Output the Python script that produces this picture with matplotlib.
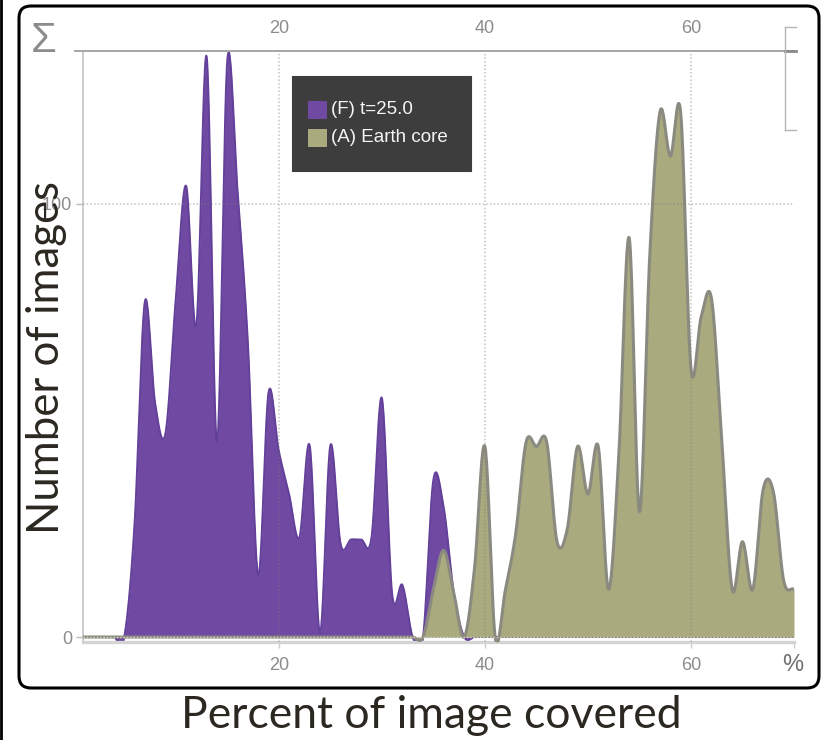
import numpy as np
import matplotlib
matplotlib.use("Agg")
import matplotlib.pyplot as plt
from matplotlib.patches import FancyBboxPatch, Rectangle
from matplotlib.lines import Line2D

# ---- data: number of images per percent of image covered ----
percent = list(range(1, 71))

series_names = ["(F) t=25.0", "(A) Earth core"]

flux_t25 = [0, 0, 0, 0, 0, 26, 77.4, 54, 47, 78,
            104.2, 72, 134.0, 45, 133.1, 103, 68, 14.3, 56.4, 43,
            33, 23, 44.2, 0.9, 44.2, 21.5, 22.5, 22.5, 23, 55.2,
            10, 12, 0, 0, 36.3, 30, 10, 0, 0, 0,
            0, 0, 0, 0, 0, 0, 0, 0, 0, 0,
            0, 0, 0, 0, 0, 0, 0, 0, 0, 0,
            0, 0, 0, 0, 0, 0, 0, 0, 0, 0]

earth_core = [0, 0, 0, 0, 0, 0, 0, 0, 0, 0,
              0, 0, 0, 0, 0, 0, 0, 0, 0, 0,
              0, 0, 0, 0, 0, 0, 0, 0, 0, 0,
              0, 0, 0, 0, 11, 20, 10, 0, 16, 44,
              0, 11, 24, 45, 44, 45, 22, 25, 44, 33,
              44, 11, 42, 92.2, 28.9, 88, 121.3, 111, 121.1, 62,
              74, 78, 45, 11, 22, 11, 34, 33.5, 13, 11]

x_ticks = [20, 40, 60]
y_ticks = [0, 100]

colors = ["#7049a3", "#a9ab7f"]
edges = ["#63409a", "#8b8a80"]
edge_widths = [1.4, 2.2]

W, H = 823, 740


def catmull_rom(x, y, samples=24):
    """Smooth curve through the points (uniform Catmull-Rom spline)."""
    x = np.asarray(x, float)
    y = np.asarray(y, float)
    n = len(y)
    m = np.zeros(n)
    m[1:-1] = (y[2:] - y[:-2]) / 2.0
    m[0] = y[1] - y[0]
    m[-1] = y[-1] - y[-2]
    t = np.linspace(0, 1, samples, endpoint=False)
    h00 = 2 * t**3 - 3 * t**2 + 1
    h10 = t**3 - 2 * t**2 + t
    h01 = -2 * t**3 + 3 * t**2
    h11 = t**3 - t**2
    xs, ys = [], []
    for i in range(n - 1):
        dx = x[i + 1] - x[i]
        xs.append(x[i] + t * dx)
        ys.append(h00 * y[i] + h10 * m[i] * dx + h01 * y[i + 1] + h11 * m[i + 1] * dx)
    xs.append([x[-1]])
    ys.append([y[-1]])
    return np.concatenate(xs), np.concatenate(ys)


def fx(px):
    return px / W


def fy(py):
    return 1 - py / H


fig = plt.figure(figsize=(W / 100, H / 100), dpi=100)
fig.patch.set_facecolor("white")

ax_left, ax_right, ax_top, ax_bottom = 83, 794, 51, 642
ax = fig.add_axes([fx(ax_left), fy(ax_bottom), (ax_right - ax_left) / W,
                   (ax_bottom - ax_top) / H])
ax.set_facecolor("none")

for vals, fc, ec, lw, z in zip([flux_t25, earth_core], colors, edges, edge_widths, [2, 3]):
    xs, ys = catmull_rom(percent, vals)
    ax.fill_between(xs, ys, 0, color=fc, lw=0, zorder=z)
    ax.plot(xs, ys, color=ec, lw=lw, zorder=z + 0.1, solid_joinstyle="round")

ax.set_xlim(1, 70)
ax.set_ylim(-1.15, 135.3)

# dotted grid drawn over the areas
grid_kw = dict(color="#7a7a7a", alpha=0.45, lw=1.1, ls=(0, (1, 1.4)), zorder=5)
for xv in x_ticks:
    ax.axvline(xv, **grid_kw)
ax.axhline(100, **grid_kw)
ax.axhline(0, color="#d8d8c4", lw=1.0, ls=(0, (1, 1.4)), zorder=5)

# spines
for s in ["top", "right"]:
    ax.spines[s].set_visible(False)
ax.spines["left"].set_color("#c4c4c4")
ax.spines["left"].set_linewidth(1.2)
ax.spines["bottom"].set_color("#d4d4d4")
ax.spines["bottom"].set_linewidth(2.4)

tick_font = dict(family="Liberation Sans", size=13)
ax.set_xticks(x_ticks + [70])
ax.set_xticklabels([str(v) for v in x_ticks] + [""], color="#8c8c8c", **tick_font)
ax.set_yticks(y_ticks)
ax.set_yticklabels([str(v) for v in y_ticks], color="#8c8c8c", **tick_font)
ax.tick_params(axis="x", length=4.5, width=1, color="#cccccc", pad=6)
ax.tick_params(axis="y", length=5, width=1, color="#bbbbbb", pad=3)

# top axis with labels
top = ax.secondary_xaxis("top")
top.set_xticks(x_ticks)
top.set_xticklabels([str(v) for v in x_ticks], color="#8c8c8c", **tick_font)
top.tick_params(length=0, pad=10)
top.spines["top"].set_visible(False)

fig.add_artist(Line2D([fx(75), fx(795)], [fy(51), fy(51)], color="#a6a6a6", lw=1.4))
fig.add_artist(Line2D([fx(785), fx(796)], [fy(51), fy(51)], color="#8a8a8a", lw=2.0))
fig.add_artist(Line2D([fx(785), fx(785)], [fy(27), fy(130)], color="#b4b4b4", lw=1.0))
fig.add_artist(Line2D([fx(785), fx(796)], [fy(27), fy(27)], color="#b4b4b4", lw=1.0))
fig.add_artist(Line2D([fx(785), fx(796)], [fy(130), fy(130)], color="#b4b4b4", lw=1.0))

fig.text(fx(44), fy(41), "Σ", color="#8c8c8c", fontsize=30,
         family="Liberation Sans", ha="center", va="center")
fig.text(fx(793), fy(665), "%", color="#707070", fontsize=17,
         family="Liberation Sans", ha="center", va="center")

# legend box
fig.add_artist(Rectangle((fx(292), fy(171)), (471 - 292) / W, (171 - 76) / H,
                         facecolor="#3d3d3d", edgecolor="#3d3d3d", lw=0.8,
                         transform=fig.transFigure, zorder=10))
for i, (name, fc) in enumerate(zip(series_names, colors)):
    cy = 110 + i * 28
    fig.add_artist(Rectangle((fx(308), fy(cy + 9)), 19 / W, 18 / H,
                             facecolor=fc, edgecolor="none",
                             transform=fig.transFigure, zorder=11))
    fig.text(fx(331), fy(cy), name, color="#f4f4f4", fontsize=13.5,
             family="Liberation Sans", ha="left", va="center", zorder=12)

# rounded frame around the chart
fig.add_artist(FancyBboxPatch((0.19, (H - 688) / 100), 8.0, (688 - 6) / 100,
                              boxstyle="round,pad=0,rounding_size=0.12",
                              transform=fig.dpi_scale_trans, facecolor="none",
                              edgecolor="black", lw=2.2, zorder=20))
fig.add_artist(Line2D([fx(1), fx(1)], [0, 1], color="black", lw=2.0))

label_kw = dict(family="Lato", color="#2b2822")
fig.text(fx(47), fy(357), "Number of images", rotation=90, fontsize=31.5,
         ha="center", va="center", **label_kw)
fig.text(fx(431), fy(716), "Percent of image covered", fontsize=32,
         ha="center", va="center", **label_kw)

fig.savefig("out.png", dpi=100)
